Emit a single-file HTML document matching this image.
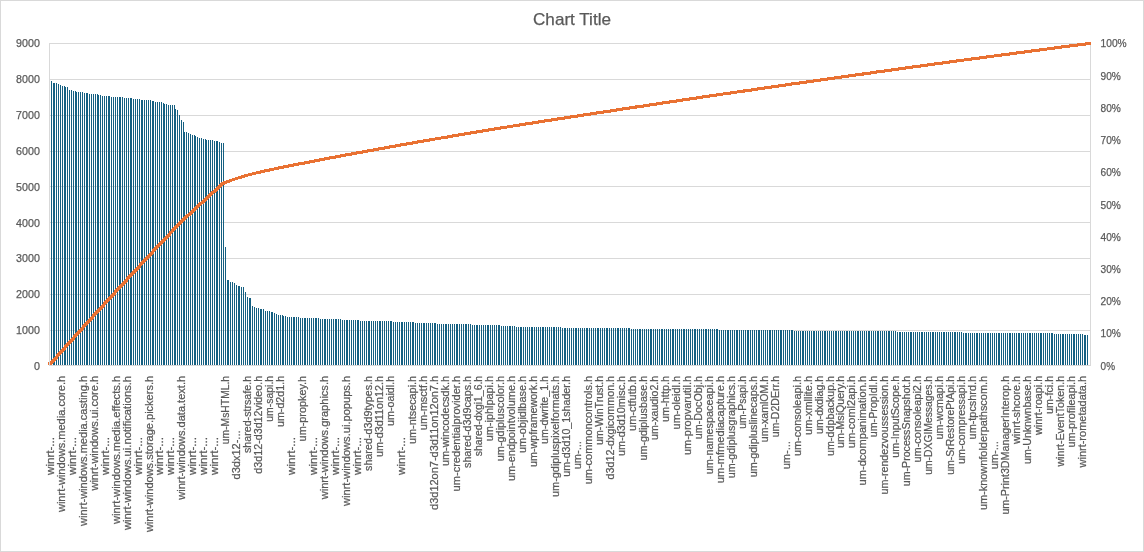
<!DOCTYPE html>
<html lang="en"><head><meta charset="utf-8"><title>Chart Title</title>
<style>html,body{margin:0;padding:0;background:#fff}svg{display:block}text{fill:#595959;stroke:#595959;stroke-width:.25px}</style></head><body>
<svg width="1144" height="552" viewBox="0 0 1144 552" font-family="'Liberation Sans', sans-serif">
<rect x="0" y="0" width="1144" height="552" fill="#fff"/>
<rect x="0.5" y="0.5" width="1143" height="551" fill="none" stroke="#d9d9d9" stroke-width="1"/>
<g fill="#d9d9d9" shape-rendering="crispEdges"><rect x="49" y="43" width="1042" height="1"/><rect x="49" y="79" width="1042" height="1"/><rect x="49" y="115" width="1042" height="1"/><rect x="49" y="151" width="1042" height="1"/><rect x="49" y="186" width="1042" height="1"/><rect x="49" y="222" width="1042" height="1"/><rect x="49" y="258" width="1042" height="1"/><rect x="49" y="294" width="1042" height="1"/><rect x="49" y="330" width="1042" height="1"/><rect x="49" y="365" width="1042" height="1"/></g>
<path fill="#156082" shape-rendering="crispEdges" d="M51 81v284h1v-284zM53 83v282h1v-282zM54 83v282h1v-282zM56 83v282h1v-282zM58 84v281h1v-281zM60 85v280h1v-280zM62 86v279h1v-279zM64 86v279h1v-279zM65 87v278h1v-278zM67 87v278h1v-278zM69 90v275h1v-275zM71 90v275h1v-275zM73 91v274h1v-274zM75 91v274h1v-274zM76 92v273h1v-273zM78 92v273h1v-273zM80 92v273h1v-273zM82 92v273h1v-273zM84 93v272h1v-272zM86 93v272h1v-272zM87 93v272h1v-272zM89 94v271h1v-271zM91 94v271h1v-271zM93 94v271h1v-271zM95 94v271h1v-271zM97 94v271h1v-271zM98 95v270h1v-270zM100 95v270h1v-270zM102 96v269h1v-269zM104 96v269h1v-269zM106 96v269h1v-269zM108 96v269h1v-269zM109 96v269h1v-269zM111 97v268h1v-268zM113 97v268h1v-268zM115 97v268h1v-268zM117 97v268h1v-268zM119 97v268h1v-268zM120 97v268h1v-268zM122 97v268h1v-268zM124 98v267h1v-267zM126 98v267h1v-267zM128 98v267h1v-267zM130 98v267h1v-267zM131 98v267h1v-267zM133 99v266h1v-266zM135 99v266h1v-266zM137 99v266h1v-266zM139 99v266h1v-266zM141 100v265h1v-265zM142 100v265h1v-265zM144 100v265h1v-265zM146 100v265h1v-265zM148 100v265h1v-265zM150 100v265h1v-265zM152 101v264h1v-264zM153 101v264h1v-264zM155 102v263h1v-263zM157 102v263h1v-263zM159 102v263h1v-263zM161 102v263h1v-263zM163 103v262h1v-262zM164 104v261h1v-261zM166 104v261h1v-261zM168 105v260h1v-260zM170 105v260h1v-260zM172 105v260h1v-260zM174 105v260h1v-260zM175 109v256h1v-256zM177 110v255h1v-255zM179 115v250h1v-250zM181 120v245h1v-245zM183 122v243h1v-243zM184 132v233h1v-233zM186 132v233h1v-233zM188 133v232h1v-232zM190 134v231h1v-231zM192 135v230h1v-230zM194 135v230h1v-230zM195 136v229h1v-229zM197 137v228h1v-228zM199 138v227h1v-227zM201 138v227h1v-227zM203 139v226h1v-226zM205 139v226h1v-226zM206 140v225h1v-225zM208 140v225h1v-225zM210 140v225h1v-225zM212 140v225h1v-225zM214 141v224h1v-224zM216 141v224h1v-224zM217 141v224h1v-224zM219 142v223h1v-223zM221 143v222h1v-222zM223 143v222h1v-222zM225 247v118h1v-118zM227 280v85h1v-85zM228 280v85h1v-85zM230 282v83h1v-83zM232 282v83h1v-83zM234 283v82h1v-82zM236 285v80h1v-80zM238 286v79h1v-79zM239 286v79h1v-79zM241 287v78h1v-78zM243 287v78h1v-78zM245 292v73h1v-73zM247 297v68h1v-68zM249 298v67h1v-67zM250 298v67h1v-67zM252 306v59h1v-59zM254 307v58h1v-58zM256 308v57h1v-57zM258 308v57h1v-57zM260 309v56h1v-56zM261 309v56h1v-56zM263 309v56h1v-56zM265 311v54h1v-54zM267 311v54h1v-54zM269 311v54h1v-54zM271 312v53h1v-53zM272 312v53h1v-53zM274 313v52h1v-52zM276 314v51h1v-51zM278 315v50h1v-50zM280 315v50h1v-50zM282 315v50h1v-50zM283 316v49h1v-49zM285 316v49h1v-49zM287 317v48h1v-48zM289 317v48h1v-48zM291 317v48h1v-48zM293 317v48h1v-48zM294 317v48h1v-48zM296 317v48h1v-48zM298 317v48h1v-48zM300 318v47h1v-47zM302 318v47h1v-47zM304 318v47h1v-47zM305 318v47h1v-47zM307 318v47h1v-47zM309 318v47h1v-47zM311 318v47h1v-47zM313 318v47h1v-47zM315 318v47h1v-47zM316 318v47h1v-47zM318 318v47h1v-47zM320 319v46h1v-46zM322 319v46h1v-46zM324 319v46h1v-46zM325 319v46h1v-46zM327 319v46h1v-46zM329 319v46h1v-46zM331 319v46h1v-46zM333 319v46h1v-46zM335 319v46h1v-46zM336 319v46h1v-46zM338 319v46h1v-46zM340 319v46h1v-46zM342 320v45h1v-45zM344 320v45h1v-45zM346 320v45h1v-45zM347 320v45h1v-45zM349 320v45h1v-45zM351 320v45h1v-45zM353 320v45h1v-45zM355 320v45h1v-45zM357 320v45h1v-45zM358 320v45h1v-45zM360 321v44h1v-44zM362 321v44h1v-44zM364 321v44h1v-44zM366 321v44h1v-44zM368 321v44h1v-44zM369 321v44h1v-44zM371 321v44h1v-44zM373 321v44h1v-44zM375 321v44h1v-44zM377 321v44h1v-44zM379 321v44h1v-44zM380 321v44h1v-44zM382 321v44h1v-44zM384 321v44h1v-44zM386 321v44h1v-44zM388 321v44h1v-44zM390 321v44h1v-44zM391 321v44h1v-44zM393 322v43h1v-43zM395 322v43h1v-43zM397 322v43h1v-43zM399 322v43h1v-43zM401 322v43h1v-43zM402 322v43h1v-43zM404 322v43h1v-43zM406 322v43h1v-43zM408 322v43h1v-43zM410 322v43h1v-43zM412 322v43h1v-43zM413 322v43h1v-43zM415 323v42h1v-42zM417 323v42h1v-42zM419 323v42h1v-42zM421 323v42h1v-42zM423 323v42h1v-42zM424 323v42h1v-42zM426 323v42h1v-42zM428 323v42h1v-42zM430 323v42h1v-42zM432 323v42h1v-42zM434 323v42h1v-42zM435 323v42h1v-42zM437 324v41h1v-41zM439 324v41h1v-41zM441 324v41h1v-41zM443 324v41h1v-41zM445 324v41h1v-41zM446 324v41h1v-41zM448 324v41h1v-41zM450 324v41h1v-41zM452 324v41h1v-41zM454 324v41h1v-41zM456 324v41h1v-41zM457 324v41h1v-41zM459 324v41h1v-41zM461 324v41h1v-41zM463 324v41h1v-41zM465 324v41h1v-41zM466 324v41h1v-41zM468 324v41h1v-41zM470 324v41h1v-41zM472 325v40h1v-40zM474 325v40h1v-40zM476 325v40h1v-40zM477 325v40h1v-40zM479 325v40h1v-40zM481 325v40h1v-40zM483 325v40h1v-40zM485 325v40h1v-40zM487 325v40h1v-40zM488 325v40h1v-40zM490 325v40h1v-40zM492 325v40h1v-40zM494 325v40h1v-40zM496 325v40h1v-40zM498 325v40h1v-40zM499 325v40h1v-40zM501 326v39h1v-39zM503 326v39h1v-39zM505 326v39h1v-39zM507 326v39h1v-39zM509 326v39h1v-39zM510 326v39h1v-39zM512 326v39h1v-39zM514 326v39h1v-39zM516 327v38h1v-38zM518 327v38h1v-38zM520 327v38h1v-38zM521 327v38h1v-38zM523 327v38h1v-38zM525 327v38h1v-38zM527 327v38h1v-38zM529 327v38h1v-38zM531 327v38h1v-38zM532 327v38h1v-38zM534 327v38h1v-38zM536 327v38h1v-38zM538 327v38h1v-38zM540 327v38h1v-38zM542 327v38h1v-38zM543 327v38h1v-38zM545 327v38h1v-38zM547 327v38h1v-38zM549 327v38h1v-38zM551 327v38h1v-38zM553 327v38h1v-38zM554 327v38h1v-38zM556 327v38h1v-38zM558 327v38h1v-38zM560 327v38h1v-38zM562 328v37h1v-37zM564 328v37h1v-37zM565 328v37h1v-37zM567 328v37h1v-37zM569 328v37h1v-37zM571 328v37h1v-37zM573 328v37h1v-37zM575 328v37h1v-37zM576 328v37h1v-37zM578 328v37h1v-37zM580 328v37h1v-37zM582 328v37h1v-37zM584 328v37h1v-37zM586 328v37h1v-37zM587 328v37h1v-37zM589 328v37h1v-37zM591 328v37h1v-37zM593 328v37h1v-37zM595 328v37h1v-37zM597 328v37h1v-37zM598 328v37h1v-37zM600 328v37h1v-37zM602 328v37h1v-37zM604 328v37h1v-37zM606 328v37h1v-37zM607 328v37h1v-37zM609 328v37h1v-37zM611 328v37h1v-37zM613 328v37h1v-37zM615 328v37h1v-37zM617 328v37h1v-37zM618 328v37h1v-37zM620 328v37h1v-37zM622 328v37h1v-37zM624 328v37h1v-37zM626 328v37h1v-37zM628 328v37h1v-37zM629 328v37h1v-37zM631 329v36h1v-36zM633 329v36h1v-36zM635 329v36h1v-36zM637 329v36h1v-36zM639 329v36h1v-36zM640 329v36h1v-36zM642 329v36h1v-36zM644 329v36h1v-36zM646 329v36h1v-36zM648 329v36h1v-36zM650 329v36h1v-36zM651 329v36h1v-36zM653 329v36h1v-36zM655 329v36h1v-36zM657 329v36h1v-36zM659 329v36h1v-36zM661 329v36h1v-36zM662 329v36h1v-36zM664 329v36h1v-36zM666 329v36h1v-36zM668 329v36h1v-36zM670 329v36h1v-36zM672 329v36h1v-36zM673 329v36h1v-36zM675 329v36h1v-36zM677 329v36h1v-36zM679 329v36h1v-36zM681 329v36h1v-36zM683 329v36h1v-36zM684 329v36h1v-36zM686 329v36h1v-36zM688 329v36h1v-36zM690 329v36h1v-36zM692 329v36h1v-36zM694 329v36h1v-36zM695 329v36h1v-36zM697 329v36h1v-36zM699 329v36h1v-36zM701 329v36h1v-36zM703 329v36h1v-36zM705 329v36h1v-36zM706 329v36h1v-36zM708 329v36h1v-36zM710 329v36h1v-36zM712 329v36h1v-36zM714 329v36h1v-36zM716 329v36h1v-36zM717 329v36h1v-36zM719 330v35h1v-35zM721 330v35h1v-35zM723 330v35h1v-35zM725 330v35h1v-35zM727 330v35h1v-35zM728 330v35h1v-35zM730 330v35h1v-35zM732 330v35h1v-35zM734 330v35h1v-35zM736 330v35h1v-35zM737 330v35h1v-35zM739 330v35h1v-35zM741 330v35h1v-35zM743 330v35h1v-35zM745 330v35h1v-35zM747 330v35h1v-35zM748 330v35h1v-35zM750 330v35h1v-35zM752 330v35h1v-35zM754 330v35h1v-35zM756 330v35h1v-35zM758 330v35h1v-35zM759 330v35h1v-35zM761 330v35h1v-35zM763 330v35h1v-35zM765 330v35h1v-35zM767 330v35h1v-35zM769 330v35h1v-35zM770 330v35h1v-35zM772 330v35h1v-35zM774 330v35h1v-35zM776 330v35h1v-35zM778 330v35h1v-35zM780 330v35h1v-35zM781 330v35h1v-35zM783 330v35h1v-35zM785 330v35h1v-35zM787 330v35h1v-35zM789 330v35h1v-35zM791 330v35h1v-35zM792 330v35h1v-35zM794 331v34h1v-34zM796 331v34h1v-34zM798 331v34h1v-34zM800 331v34h1v-34zM802 331v34h1v-34zM803 331v34h1v-34zM805 331v34h1v-34zM807 331v34h1v-34zM809 331v34h1v-34zM811 331v34h1v-34zM813 331v34h1v-34zM814 331v34h1v-34zM816 331v34h1v-34zM818 331v34h1v-34zM820 331v34h1v-34zM822 331v34h1v-34zM824 331v34h1v-34zM825 331v34h1v-34zM827 331v34h1v-34zM829 331v34h1v-34zM831 331v34h1v-34zM833 331v34h1v-34zM835 331v34h1v-34zM836 331v34h1v-34zM838 331v34h1v-34zM840 331v34h1v-34zM842 331v34h1v-34zM844 331v34h1v-34zM846 331v34h1v-34zM847 331v34h1v-34zM849 331v34h1v-34zM851 331v34h1v-34zM853 331v34h1v-34zM855 331v34h1v-34zM857 331v34h1v-34zM858 331v34h1v-34zM860 331v34h1v-34zM862 331v34h1v-34zM864 331v34h1v-34zM866 331v34h1v-34zM868 331v34h1v-34zM869 331v34h1v-34zM871 331v34h1v-34zM873 331v34h1v-34zM875 331v34h1v-34zM877 331v34h1v-34zM878 331v34h1v-34zM880 331v34h1v-34zM882 331v34h1v-34zM884 331v34h1v-34zM886 331v34h1v-34zM888 331v34h1v-34zM889 331v34h1v-34zM891 331v34h1v-34zM893 331v34h1v-34zM895 331v34h1v-34zM897 332v33h1v-33zM899 332v33h1v-33zM900 332v33h1v-33zM902 332v33h1v-33zM904 332v33h1v-33zM906 332v33h1v-33zM908 332v33h1v-33zM910 332v33h1v-33zM911 332v33h1v-33zM913 332v33h1v-33zM915 332v33h1v-33zM917 332v33h1v-33zM919 332v33h1v-33zM921 332v33h1v-33zM922 332v33h1v-33zM924 332v33h1v-33zM926 332v33h1v-33zM928 332v33h1v-33zM930 332v33h1v-33zM932 332v33h1v-33zM933 332v33h1v-33zM935 332v33h1v-33zM937 332v33h1v-33zM939 332v33h1v-33zM941 332v33h1v-33zM943 332v33h1v-33zM944 332v33h1v-33zM946 332v33h1v-33zM948 332v33h1v-33zM950 332v33h1v-33zM952 332v33h1v-33zM954 332v33h1v-33zM955 332v33h1v-33zM957 332v33h1v-33zM959 332v33h1v-33zM961 332v33h1v-33zM963 333v32h1v-32zM965 333v32h1v-32zM966 333v32h1v-32zM968 333v32h1v-32zM970 333v32h1v-32zM972 333v32h1v-32zM974 333v32h1v-32zM976 333v32h1v-32zM977 333v32h1v-32zM979 333v32h1v-32zM981 333v32h1v-32zM983 333v32h1v-32zM985 333v32h1v-32zM987 333v32h1v-32zM988 333v32h1v-32zM990 333v32h1v-32zM992 333v32h1v-32zM994 333v32h1v-32zM996 333v32h1v-32zM998 333v32h1v-32zM999 333v32h1v-32zM1001 333v32h1v-32zM1003 333v32h1v-32zM1005 333v32h1v-32zM1007 333v32h1v-32zM1009 333v32h1v-32zM1010 333v32h1v-32zM1012 333v32h1v-32zM1014 333v32h1v-32zM1016 333v32h1v-32zM1018 333v32h1v-32zM1019 333v32h1v-32zM1021 333v32h1v-32zM1023 333v32h1v-32zM1025 333v32h1v-32zM1027 333v32h1v-32zM1029 333v32h1v-32zM1030 333v32h1v-32zM1032 333v32h1v-32zM1034 333v32h1v-32zM1036 333v32h1v-32zM1038 333v32h1v-32zM1040 333v32h1v-32zM1041 333v32h1v-32zM1043 333v32h1v-32zM1045 333v32h1v-32zM1047 333v32h1v-32zM1049 333v32h1v-32zM1051 333v32h1v-32zM1052 333v32h1v-32zM1054 334v31h1v-31zM1056 334v31h1v-31zM1058 334v31h1v-31zM1060 334v31h1v-31zM1062 334v31h1v-31zM1063 334v31h1v-31zM1065 334v31h1v-31zM1067 334v31h1v-31zM1069 334v31h1v-31zM1071 334v31h1v-31zM1073 334v31h1v-31zM1074 334v31h1v-31zM1076 334v31h1v-31zM1078 334v31h1v-31zM1080 334v31h1v-31zM1082 334v31h1v-31zM1084 335v30h1v-30zM1085 335v30h1v-30zM1087 335v30h1v-30z"/>
<g fill="#d9d9d9" shape-rendering="crispEdges"><rect x="1090" y="43" width="1" height="323"/></g>
<clipPath id="lc"><rect x="0" y="0" width="1091" height="552"/></clipPath><g clip-path="url(#lc)" fill="none" stroke="#e97132" stroke-linejoin="round" shape-rendering="crispEdges"><polyline stroke-width="3.5" stroke-linecap="butt" points="51.0,363.4 52.8,361.3 54.7,359.2 56.5,357.1 58.3,355.0 60.2,353.0 62.0,350.9 63.8,348.8 65.6,346.8 67.5,344.7 69.3,342.7 71.1,340.6 73.0,338.6 74.8,336.6 76.6,334.5 78.5,332.5 80.3,330.5 82.1,328.5 84.0,326.4 85.8,324.4 87.6,322.4 89.5,320.4 91.3,318.4 93.1,316.4 94.9,314.4 96.8,312.4 98.6,310.4 100.4,308.4 102.3,306.4 104.1,304.4 105.9,302.4 107.8,300.4 109.6,298.4 111.4,296.4 113.3,294.4 115.1,292.4 116.9,290.4 118.8,288.4 120.6,286.5 122.4,284.5 124.2,282.5 126.1,280.5 127.9,278.5 129.7,276.5 131.6,274.6 133.4,272.6 135.2,270.6 137.1,268.6 138.9,266.7 140.7,264.7 142.6,262.7 144.4,260.8 146.2,258.8 148.0,256.8 149.9,254.9 151.7,252.9 153.5,251.0 155.4,249.0 157.2,247.1 159.0,245.1 160.9,243.2 162.7,241.2 164.5,239.3 166.4,237.3 168.2,235.4 170.0,233.5 171.9,231.6 173.7,229.6 175.5,227.7 177.3,225.8 179.2,224.0 181.0,222.2 182.8,220.4 184.7,218.6 186.5,216.9 188.3,215.2 190.2,213.5 192.0,211.8 193.8,210.1 195.7,208.4 197.5,206.7 199.3,205.0 201.2,203.3 203.0,201.6 204.8,199.9 206.6,198.3 208.5,196.6 210.3,194.9 212.1,193.3 214.0,191.6 215.8,189.9 217.6,188.3 219.5,186.6 221.3,185.0 223.1,183.3 225.0,182.4"/><polyline stroke-width="3.1" stroke-linecap="square" points="225.0,182.4 226.8,181.8 228.6,181.2 230.5,180.6 232.3,179.9 234.1,179.3 235.9,178.7 237.8,178.1 239.6,177.5 241.4,177.0 243.3,176.4 245.1,175.8 246.9,175.3 248.8,174.8 250.6,174.3 252.4,173.9 254.3,173.4 256.1,173.0 257.9,172.6 259.7,172.2 261.6,171.7 263.4,171.3 265.2,170.9 267.1,170.5 268.9,170.1 270.7,169.7 272.6,169.3 274.4,168.9 276.2,168.5 278.1,168.1 279.9,167.8 281.7,167.4 283.6,167.0 285.4,166.6 287.2,166.3 289.0,165.9 290.9,165.6 292.7,165.2 294.5,164.8 296.4,164.5 298.2,164.1 300.0,163.8 301.9,163.4 303.7,163.1 305.5,162.7 307.4,162.3 309.2,162.0 311.0,161.6 312.9,161.3 314.7,160.9 316.5,160.6 318.3,160.2 320.2,159.9 322.0,159.5 323.8,159.2 325.7,158.8 327.5,158.5 329.3,158.1 331.2,157.8 333.0,157.4 334.8,157.1 336.7,156.7 338.5,156.4 340.3,156.0 342.1,155.7 344.0,155.4 345.8,155.0 347.6,154.7 349.5,154.3 351.3,154.0 353.1,153.7 355.0,153.3 356.8,153.0 358.6,152.6 360.5,152.3 362.3,152.0 364.1,151.6 366.0,151.3 367.8,151.0 369.6,150.7 371.4,150.3 373.3,150.0 375.1,149.7 376.9,149.3 378.8,149.0 380.6,148.7 382.4,148.3 384.3,148.0 386.1,147.7 387.9,147.3 389.8,147.0 391.6,146.7 393.4,146.3 395.3,146.0 397.1,145.7 398.9,145.4 400.7,145.0 402.6,144.7 404.4,144.4 406.2,144.1 408.1,143.7 409.9,143.4 411.7,143.1 413.6,142.8 415.4,142.4 417.2,142.1 419.1,141.8 420.9,141.5 422.7,141.2 424.6,140.9 426.4,140.5 428.2,140.2 430.0,139.9 431.9,139.6 433.7,139.3 435.5,138.9 437.4,138.6 439.2,138.3 441.0,138.0 442.9,137.7 444.7,137.4 446.5,137.1 448.4,136.8 450.2,136.5 452.0,136.2 453.8,135.8 455.7,135.5 457.5,135.2 459.3,134.9 461.2,134.6 463.0,134.3 464.8,134.0 466.7,133.7 468.5,133.4 470.3,133.1 472.2,132.7 474.0,132.4 475.8,132.1 477.7,131.8 479.5,131.5 481.3,131.2 483.1,130.9 485.0,130.6 486.8,130.3 488.6,130.0 490.5,129.7 492.3,129.4 494.1,129.1 496.0,128.8 497.8,128.5 499.6,128.2 501.5,127.9 503.3,127.6 505.1,127.3 507.0,127.0 508.8,126.7 510.6,126.4 512.4,126.1 514.3,125.8 516.1,125.6 517.9,125.3 519.8,125.0 521.6,124.7 523.4,124.4 525.3,124.1 527.1,123.8 528.9,123.5 530.8,123.2 532.6,123.0 534.4,122.7 536.2,122.4 538.1,122.1 539.9,121.8 541.7,121.5 543.6,121.2 545.4,120.9 547.2,120.7 549.1,120.4 550.9,120.1 552.7,119.8 554.6,119.5 556.4,119.2 558.2,118.9 560.1,118.6 561.9,118.4 563.7,118.1 565.5,117.8 567.4,117.5 569.2,117.2 571.0,117.0 572.9,116.7 574.7,116.4 576.5,116.1 578.4,115.8 580.2,115.5 582.0,115.3 583.9,115.0 585.7,114.7 587.5,114.4 589.4,114.1 591.2,113.9 593.0,113.6 594.8,113.3 596.7,113.0 598.5,112.7 600.3,112.5 602.2,112.2 604.0,111.9 605.8,111.6 607.7,111.3 609.5,111.1 611.3,110.8 613.2,110.5 615.0,110.2 616.8,109.9 618.7,109.7 620.5,109.4 622.3,109.1 624.1,108.8 626.0,108.5 627.8,108.2 629.6,108.0 631.5,107.7 633.3,107.4 635.1,107.1 637.0,106.9 638.8,106.6 640.6,106.3 642.5,106.1 644.3,105.8 646.1,105.5 647.9,105.2 649.8,105.0 651.6,104.7 653.4,104.4 655.3,104.1 657.1,103.9 658.9,103.6 660.8,103.3 662.6,103.0 664.4,102.8 666.3,102.5 668.1,102.2 669.9,102.0 671.8,101.7 673.6,101.4 675.4,101.1 677.2,100.9 679.1,100.6 680.9,100.3 682.7,100.0 684.6,99.8 686.4,99.5 688.2,99.2 690.1,98.9 691.9,98.7 693.7,98.4 695.6,98.1 697.4,97.9 699.2,97.6 701.1,97.3 702.9,97.0 704.7,96.8 706.5,96.5 708.4,96.2 710.2,95.9 712.0,95.7 713.9,95.4 715.7,95.1 717.5,94.8 719.4,94.6 721.2,94.3 723.0,94.0 724.9,93.8 726.7,93.5 728.5,93.2 730.3,93.0 732.2,92.7 734.0,92.4 735.8,92.2 737.7,91.9 739.5,91.7 741.3,91.4 743.2,91.1 745.0,90.9 746.8,90.6 748.7,90.3 750.5,90.1 752.3,89.8 754.2,89.5 756.0,89.3 757.8,89.0 759.6,88.7 761.5,88.5 763.3,88.2 765.1,87.9 767.0,87.7 768.8,87.4 770.6,87.1 772.5,86.9 774.3,86.6 776.1,86.3 778.0,86.1 779.8,85.8 781.6,85.5 783.5,85.3 785.3,85.0 787.1,84.7 788.9,84.5 790.8,84.2 792.6,83.9 794.4,83.7 796.3,83.4 798.1,83.2 799.9,82.9 801.8,82.6 803.6,82.4 805.4,82.1 807.3,81.9 809.1,81.6 810.9,81.4 812.8,81.1 814.6,80.8 816.4,80.6 818.2,80.3 820.1,80.1 821.9,79.8 823.7,79.5 825.6,79.3 827.4,79.0 829.2,78.8 831.1,78.5 832.9,78.2 834.7,78.0 836.6,77.7 838.4,77.5 840.2,77.2 842.0,77.0 843.9,76.7 845.7,76.4 847.5,76.2 849.4,75.9 851.2,75.7 853.0,75.4 854.9,75.1 856.7,74.9 858.5,74.6 860.4,74.4 862.2,74.1 864.0,73.9 865.9,73.6 867.7,73.3 869.5,73.1 871.3,72.8 873.2,72.6 875.0,72.3 876.8,72.0 878.7,71.8 880.5,71.5 882.3,71.3 884.2,71.0 886.0,70.7 887.8,70.5 889.7,70.2 891.5,70.0 893.3,69.7 895.2,69.5 897.0,69.2 898.8,69.0 900.6,68.7 902.5,68.5 904.3,68.2 906.1,67.9 908.0,67.7 909.8,67.4 911.6,67.2 913.5,66.9 915.3,66.7 917.1,66.4 919.0,66.2 920.8,65.9 922.6,65.7 924.4,65.4 926.3,65.2 928.1,64.9 929.9,64.7 931.8,64.4 933.6,64.2 935.4,63.9 937.3,63.7 939.1,63.4 940.9,63.2 942.8,62.9 944.6,62.7 946.4,62.4 948.3,62.2 950.1,61.9 951.9,61.7 953.7,61.4 955.6,61.2 957.4,60.9 959.2,60.7 961.1,60.4 962.9,60.2 964.7,59.9 966.6,59.7 968.4,59.4 970.2,59.2 972.1,58.9 973.9,58.7 975.7,58.5 977.6,58.2 979.4,58.0 981.2,57.7 983.0,57.5 984.9,57.2 986.7,57.0 988.5,56.8 990.4,56.5 992.2,56.3 994.0,56.0 995.9,55.8 997.7,55.5 999.5,55.3 1001.4,55.0 1003.2,54.8 1005.0,54.6 1006.8,54.3 1008.7,54.1 1010.5,53.8 1012.3,53.6 1014.2,53.3 1016.0,53.1 1017.8,52.9 1019.7,52.6 1021.5,52.4 1023.3,52.1 1025.2,51.9 1027.0,51.6 1028.8,51.4 1030.7,51.1 1032.5,50.9 1034.3,50.7 1036.1,50.4 1038.0,50.2 1039.8,49.9 1041.6,49.7 1043.5,49.4 1045.3,49.2 1047.1,49.0 1049.0,48.7 1050.8,48.5 1052.6,48.2 1054.5,48.0 1056.3,47.7 1058.1,47.5 1060.0,47.3 1061.8,47.0 1063.6,46.8 1065.4,46.6 1067.3,46.3 1069.1,46.1 1070.9,45.9 1072.8,45.6 1074.6,45.4 1076.4,45.1 1078.3,44.9 1080.1,44.7 1081.9,44.4 1083.8,44.2 1085.6,44.0 1087.4,43.7 1089.3,43.5 1091.1,43.5"/></g>
<g fill="#e97132" shape-rendering="crispEdges"><rect x="48" y="362" width="1" height="3"/><rect x="50" y="361" width="2" height="4"/></g>
<g fill="#d9d9d9" shape-rendering="crispEdges"><rect x="49" y="43" width="1" height="323"/></g>
<text x="572" y="25" font-size="17" text-anchor="middle" textLength="78" lengthAdjust="spacingAndGlyphs">Chart Title</text>
<g font-size="11.4" text-anchor="end"><text x="39.9" y="47.0" textLength="23.8" lengthAdjust="spacingAndGlyphs">9000</text><text x="39.9" y="83.0" textLength="23.8" lengthAdjust="spacingAndGlyphs">8000</text><text x="39.9" y="119.0" textLength="23.8" lengthAdjust="spacingAndGlyphs">7000</text><text x="39.9" y="155.0" textLength="23.8" lengthAdjust="spacingAndGlyphs">6000</text><text x="39.9" y="191.0" textLength="23.8" lengthAdjust="spacingAndGlyphs">5000</text><text x="39.9" y="227.0" textLength="23.8" lengthAdjust="spacingAndGlyphs">4000</text><text x="39.9" y="262.0" textLength="23.8" lengthAdjust="spacingAndGlyphs">3000</text><text x="39.9" y="298.0" textLength="23.8" lengthAdjust="spacingAndGlyphs">2000</text><text x="39.9" y="334.0" textLength="23.8" lengthAdjust="spacingAndGlyphs">1000</text><text x="39.9" y="370.0" textLength="6.0" lengthAdjust="spacingAndGlyphs">0</text></g>
<g font-size="11.4"><text x="1100.6" y="47.0" textLength="26.1" lengthAdjust="spacingAndGlyphs">100%</text><text x="1100.6" y="80.0" textLength="20.3" lengthAdjust="spacingAndGlyphs">90%</text><text x="1100.6" y="112.0" textLength="20.3" lengthAdjust="spacingAndGlyphs">80%</text><text x="1100.6" y="144.0" textLength="20.3" lengthAdjust="spacingAndGlyphs">70%</text><text x="1100.6" y="176.0" textLength="20.3" lengthAdjust="spacingAndGlyphs">60%</text><text x="1100.6" y="209.0" textLength="20.3" lengthAdjust="spacingAndGlyphs">50%</text><text x="1100.6" y="241.0" textLength="20.3" lengthAdjust="spacingAndGlyphs">40%</text><text x="1100.6" y="273.0" textLength="20.3" lengthAdjust="spacingAndGlyphs">30%</text><text x="1100.6" y="305.0" textLength="20.3" lengthAdjust="spacingAndGlyphs">20%</text><text x="1100.6" y="337.0" textLength="20.3" lengthAdjust="spacingAndGlyphs">10%</text><text x="1100.6" y="370.0" textLength="14.4" lengthAdjust="spacingAndGlyphs">0%</text></g>
<g font-size="11.8" text-anchor="end"><text transform="translate(53.6 437.1) rotate(-90)" textLength="37.8" lengthAdjust="spacingAndGlyphs">winrt-...</text><text transform="translate(64.6 375.9) rotate(-90)" textLength="136.2" lengthAdjust="spacingAndGlyphs">winrt-windows.media.core.h</text><text transform="translate(75.6 437.1) rotate(-90)" textLength="37.8" lengthAdjust="spacingAndGlyphs">winrt-...</text><text transform="translate(86.6 375.9) rotate(-90)" textLength="150.0" lengthAdjust="spacingAndGlyphs">winrt-windows.media.casting.h</text><text transform="translate(97.5 375.9) rotate(-90)" textLength="114.7" lengthAdjust="spacingAndGlyphs">winrt-windows.ui.core.h</text><text transform="translate(108.5 437.1) rotate(-90)" textLength="37.8" lengthAdjust="spacingAndGlyphs">winrt-...</text><text transform="translate(119.5 375.9) rotate(-90)" textLength="148.2" lengthAdjust="spacingAndGlyphs">winrt-windows.media.effects.h</text><text transform="translate(130.5 375.9) rotate(-90)" textLength="154.1" lengthAdjust="spacingAndGlyphs">winrt-windows.ui.notifications.h</text><text transform="translate(141.5 437.1) rotate(-90)" textLength="37.8" lengthAdjust="spacingAndGlyphs">winrt-...</text><text transform="translate(152.5 375.9) rotate(-90)" textLength="156.2" lengthAdjust="spacingAndGlyphs">winrt-windows.storage.pickers.h</text><text transform="translate(163.4 437.1) rotate(-90)" textLength="37.8" lengthAdjust="spacingAndGlyphs">winrt-...</text><text transform="translate(174.4 437.1) rotate(-90)" textLength="37.8" lengthAdjust="spacingAndGlyphs">winrt-...</text><text transform="translate(185.4 375.9) rotate(-90)" textLength="123.9" lengthAdjust="spacingAndGlyphs">winrt-windows.data.text.h</text><text transform="translate(196.4 437.1) rotate(-90)" textLength="37.8" lengthAdjust="spacingAndGlyphs">winrt-...</text><text transform="translate(207.4 437.1) rotate(-90)" textLength="37.8" lengthAdjust="spacingAndGlyphs">winrt-...</text><text transform="translate(218.4 437.1) rotate(-90)" textLength="37.8" lengthAdjust="spacingAndGlyphs">winrt-...</text><text transform="translate(229.3 375.9) rotate(-90)" textLength="68.3" lengthAdjust="spacingAndGlyphs">um-MsHTML.h</text><text transform="translate(240.3 430.5) rotate(-90)" textLength="48.9" lengthAdjust="spacingAndGlyphs">d3dx12-...</text><text transform="translate(251.3 375.9) rotate(-90)" textLength="77.2" lengthAdjust="spacingAndGlyphs">shared-strsafe.h</text><text transform="translate(262.3 375.9) rotate(-90)" textLength="97.8" lengthAdjust="spacingAndGlyphs">d3d12-d3d12video.h</text><text transform="translate(273.3 375.9) rotate(-90)" textLength="45.9" lengthAdjust="spacingAndGlyphs">um-sapi.h</text><text transform="translate(284.3 375.9) rotate(-90)" textLength="51.1" lengthAdjust="spacingAndGlyphs">um-d2d1.h</text><text transform="translate(295.2 437.1) rotate(-90)" textLength="37.8" lengthAdjust="spacingAndGlyphs">winrt-...</text><text transform="translate(306.2 375.9) rotate(-90)" textLength="65.5" lengthAdjust="spacingAndGlyphs">um-propkey.h</text><text transform="translate(317.2 437.1) rotate(-90)" textLength="37.8" lengthAdjust="spacingAndGlyphs">winrt-...</text><text transform="translate(328.2 375.9) rotate(-90)" textLength="123.3" lengthAdjust="spacingAndGlyphs">winrt-windows.graphics.h</text><text transform="translate(339.2 437.1) rotate(-90)" textLength="37.8" lengthAdjust="spacingAndGlyphs">winrt-...</text><text transform="translate(350.2 375.9) rotate(-90)" textLength="130.1" lengthAdjust="spacingAndGlyphs">winrt-windows.ui.popups.h</text><text transform="translate(361.2 437.1) rotate(-90)" textLength="37.8" lengthAdjust="spacingAndGlyphs">winrt-...</text><text transform="translate(372.1 375.9) rotate(-90)" textLength="95.1" lengthAdjust="spacingAndGlyphs">shared-d3d9types.h</text><text transform="translate(383.1 375.9) rotate(-90)" textLength="81.1" lengthAdjust="spacingAndGlyphs">um-d3d11on12.h</text><text transform="translate(394.1 375.9) rotate(-90)" textLength="50.0" lengthAdjust="spacingAndGlyphs">um-oaidl.h</text><text transform="translate(405.1 437.1) rotate(-90)" textLength="37.8" lengthAdjust="spacingAndGlyphs">winrt-...</text><text transform="translate(416.1 375.9) rotate(-90)" textLength="68.1" lengthAdjust="spacingAndGlyphs">um-ntsecapi.h</text><text transform="translate(427.1 375.9) rotate(-90)" textLength="54.3" lengthAdjust="spacingAndGlyphs">um-msctf.h</text><text transform="translate(438.0 375.9) rotate(-90)" textLength="134.0" lengthAdjust="spacingAndGlyphs">d3d12on7-d3d11on12on7.h</text><text transform="translate(449.0 375.9) rotate(-90)" textLength="90.2" lengthAdjust="spacingAndGlyphs">um-wincodecsdk.h</text><text transform="translate(460.0 375.9) rotate(-90)" textLength="115.5" lengthAdjust="spacingAndGlyphs">um-credentialprovider.h</text><text transform="translate(471.0 375.9) rotate(-90)" textLength="92.1" lengthAdjust="spacingAndGlyphs">shared-d3d9caps.h</text><text transform="translate(482.0 375.9) rotate(-90)" textLength="80.4" lengthAdjust="spacingAndGlyphs">shared-dxgi1_6.h</text><text transform="translate(493.0 375.9) rotate(-90)" textLength="65.4" lengthAdjust="spacingAndGlyphs">um-iphlpapi.h</text><text transform="translate(503.9 375.9) rotate(-90)" textLength="85.3" lengthAdjust="spacingAndGlyphs">um-gdipluscolor.h</text><text transform="translate(514.9 375.9) rotate(-90)" textLength="105.2" lengthAdjust="spacingAndGlyphs">um-endpointvolume.h</text><text transform="translate(525.9 375.9) rotate(-90)" textLength="77.1" lengthAdjust="spacingAndGlyphs">um-objidlbase.h</text><text transform="translate(536.9 375.9) rotate(-90)" textLength="91.0" lengthAdjust="spacingAndGlyphs">um-wpframework.h</text><text transform="translate(547.9 375.9) rotate(-90)" textLength="68.1" lengthAdjust="spacingAndGlyphs">um-dwrite_1.h</text><text transform="translate(558.9 375.9) rotate(-90)" textLength="121.1" lengthAdjust="spacingAndGlyphs">um-gdipluspixelformats.h</text><text transform="translate(569.8 375.9) rotate(-90)" textLength="100.8" lengthAdjust="spacingAndGlyphs">um-d3d10_1shader.h</text><text transform="translate(580.8 441.2) rotate(-90)" textLength="28.1" lengthAdjust="spacingAndGlyphs">um-...</text><text transform="translate(591.8 375.9) rotate(-90)" textLength="108.4" lengthAdjust="spacingAndGlyphs">um-commoncontrols.h</text><text transform="translate(602.8 375.9) rotate(-90)" textLength="69.0" lengthAdjust="spacingAndGlyphs">um-WinTrust.h</text><text transform="translate(613.8 375.9) rotate(-90)" textLength="103.5" lengthAdjust="spacingAndGlyphs">d3d12-dxgicommon.h</text><text transform="translate(624.8 375.9) rotate(-90)" textLength="80.0" lengthAdjust="spacingAndGlyphs">um-d3d10misc.h</text><text transform="translate(635.8 375.9) rotate(-90)" textLength="55.1" lengthAdjust="spacingAndGlyphs">um-ctfutb.h</text><text transform="translate(646.7 375.9) rotate(-90)" textLength="84.5" lengthAdjust="spacingAndGlyphs">um-gdiplusbase.h</text><text transform="translate(657.7 375.9) rotate(-90)" textLength="64.1" lengthAdjust="spacingAndGlyphs">um-xaudio2.h</text><text transform="translate(668.7 375.9) rotate(-90)" textLength="46.1" lengthAdjust="spacingAndGlyphs">um-http.h</text><text transform="translate(679.7 375.9) rotate(-90)" textLength="53.5" lengthAdjust="spacingAndGlyphs">um-oleidl.h</text><text transform="translate(690.7 375.9) rotate(-90)" textLength="79.1" lengthAdjust="spacingAndGlyphs">um-propvarutil.h</text><text transform="translate(701.7 375.9) rotate(-90)" textLength="63.3" lengthAdjust="spacingAndGlyphs">um-DocObj.h</text><text transform="translate(712.6 375.9) rotate(-90)" textLength="98.3" lengthAdjust="spacingAndGlyphs">um-namespaceapi.h</text><text transform="translate(723.6 375.9) rotate(-90)" textLength="107.3" lengthAdjust="spacingAndGlyphs">um-mfmediacapture.h</text><text transform="translate(734.6 375.9) rotate(-90)" textLength="102.3" lengthAdjust="spacingAndGlyphs">um-gdiplusgraphics.h</text><text transform="translate(745.6 375.9) rotate(-90)" textLength="52.8" lengthAdjust="spacingAndGlyphs">um-Psapi.h</text><text transform="translate(756.6 375.9) rotate(-90)" textLength="101.4" lengthAdjust="spacingAndGlyphs">um-gdipluslinecaps.h</text><text transform="translate(767.6 375.9) rotate(-90)" textLength="66.3" lengthAdjust="spacingAndGlyphs">um-xamlOM.h</text><text transform="translate(778.5 375.9) rotate(-90)" textLength="61.4" lengthAdjust="spacingAndGlyphs">um-D2DErr.h</text><text transform="translate(789.5 441.2) rotate(-90)" textLength="28.1" lengthAdjust="spacingAndGlyphs">um-...</text><text transform="translate(800.5 375.9) rotate(-90)" textLength="80.2" lengthAdjust="spacingAndGlyphs">um-consoleapi.h</text><text transform="translate(811.5 375.9) rotate(-90)" textLength="59.0" lengthAdjust="spacingAndGlyphs">um-xmllite.h</text><text transform="translate(822.5 375.9) rotate(-90)" textLength="58.1" lengthAdjust="spacingAndGlyphs">um-dxdiag.h</text><text transform="translate(833.5 375.9) rotate(-90)" textLength="80.2" lengthAdjust="spacingAndGlyphs">um-ddpbackup.h</text><text transform="translate(844.4 375.9) rotate(-90)" textLength="72.0" lengthAdjust="spacingAndGlyphs">um-MsiQuery.h</text><text transform="translate(855.4 375.9) rotate(-90)" textLength="72.3" lengthAdjust="spacingAndGlyphs">um-coml2api.h</text><text transform="translate(866.4 375.9) rotate(-90)" textLength="109.5" lengthAdjust="spacingAndGlyphs">um-dcompanimation.h</text><text transform="translate(877.4 375.9) rotate(-90)" textLength="61.4" lengthAdjust="spacingAndGlyphs">um-PropIdl.h</text><text transform="translate(888.4 375.9) rotate(-90)" textLength="118.5" lengthAdjust="spacingAndGlyphs">um-rendezvoussession.h</text><text transform="translate(899.4 375.9) rotate(-90)" textLength="81.8" lengthAdjust="spacingAndGlyphs">um-InputScope.h</text><text transform="translate(910.4 375.9) rotate(-90)" textLength="110.3" lengthAdjust="spacingAndGlyphs">um-ProcessSnapshot.h</text><text transform="translate(921.3 375.9) rotate(-90)" textLength="86.7" lengthAdjust="spacingAndGlyphs">um-consoleapi2.h</text><text transform="translate(932.3 375.9) rotate(-90)" textLength="98.9" lengthAdjust="spacingAndGlyphs">um-DXGIMessages.h</text><text transform="translate(943.3 375.9) rotate(-90)" textLength="63.5" lengthAdjust="spacingAndGlyphs">um-wcmapi.h</text><text transform="translate(954.3 375.9) rotate(-90)" textLength="98.9" lengthAdjust="spacingAndGlyphs">um-SrRestorePtApi.h</text><text transform="translate(965.3 375.9) rotate(-90)" textLength="88.0" lengthAdjust="spacingAndGlyphs">um-compressapi.h</text><text transform="translate(976.3 375.9) rotate(-90)" textLength="63.5" lengthAdjust="spacingAndGlyphs">um-tpcshrd.h</text><text transform="translate(987.2 375.9) rotate(-90)" textLength="134.2" lengthAdjust="spacingAndGlyphs">um-knownfolderpathscom.h</text><text transform="translate(998.2 441.2) rotate(-90)" textLength="28.1" lengthAdjust="spacingAndGlyphs">um-...</text><text transform="translate(1009.2 375.9) rotate(-90)" textLength="138.7" lengthAdjust="spacingAndGlyphs">um-Print3DManagerInterop.h</text><text transform="translate(1020.2 375.9) rotate(-90)" textLength="68.1" lengthAdjust="spacingAndGlyphs">winrt-shcore.h</text><text transform="translate(1031.2 375.9) rotate(-90)" textLength="88.0" lengthAdjust="spacingAndGlyphs">um-Unknwnbase.h</text><text transform="translate(1042.2 375.9) rotate(-90)" textLength="59.0" lengthAdjust="spacingAndGlyphs">winrt-roapi.h</text><text transform="translate(1053.1 375.9) rotate(-90)" textLength="38.0" lengthAdjust="spacingAndGlyphs">um-fci.h</text><text transform="translate(1064.1 375.9) rotate(-90)" textLength="90.7" lengthAdjust="spacingAndGlyphs">winrt-EventToken.h</text><text transform="translate(1075.1 375.9) rotate(-90)" textLength="71.7" lengthAdjust="spacingAndGlyphs">um-profileapi.h</text><text transform="translate(1086.1 375.9) rotate(-90)" textLength="91.6" lengthAdjust="spacingAndGlyphs">winrt-rometadata.h</text></g>
</svg></body></html>
